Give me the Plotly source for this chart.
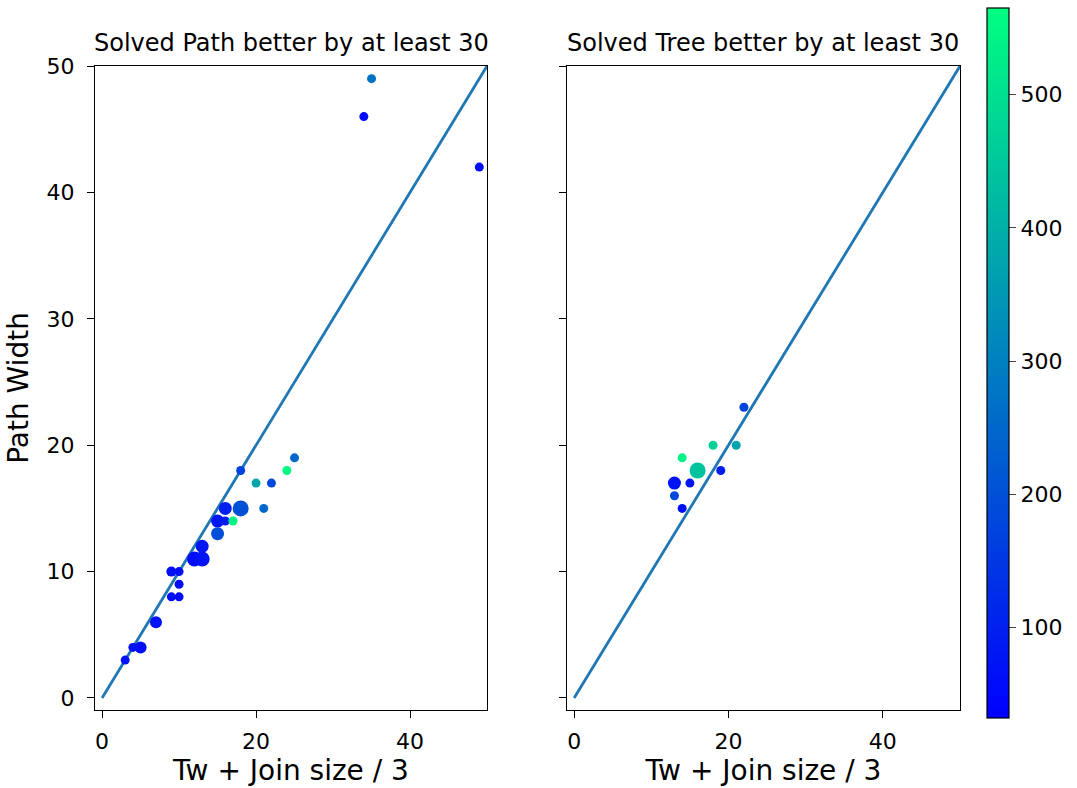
import plotly.graph_objects as go

# Left panel: Solved Path better by at least 30
path_x = [25, 24, 18, 20, 22, 16, 18, 21, 15, 16, 17, 15, 13, 12, 13, 9, 10, 10, 9, 10, 7, 4, 5, 3, 34, 35, 49]
path_y = [19, 18, 18, 17, 17, 15, 15, 15, 14, 14, 14, 13, 12, 11, 11, 10, 10, 9, 8, 8, 6, 4, 4, 3, 46, 49, 42]
path_c = [250, 550, 170, 380, 180, 100, 200, 250, 80, 90, 540, 200, 80, 60, 70, 60, 60, 50, 60, 50, 70, 70, 60, 70, 50, 270, 60]
path_s = [9, 9, 9, 9, 9, 13, 16, 9, 13, 9, 9, 13, 13, 15, 15, 10, 9, 9, 9, 9, 12, 9, 12, 9, 9, 9, 9]

# Right panel: Solved Tree better by at least 30
tree_x = [22, 18, 21, 14, 16, 19, 13, 15, 13, 14]
tree_y = [23, 20, 20, 19, 18, 18, 17, 17, 16, 15]
tree_c = [170, 470, 370, 540, 440, 90, 70, 80, 180, 60]
tree_s = [9, 9, 9, 9, 16, 9, 13, 9, 9, 9]

diag = [0, 50]
cmin, cmax = 32, 565
winter = [[0, "rgb(0,0,255)"], [1, "rgb(0,255,128)"]]
font = "DejaVu Sans"

fig = go.Figure()
fig.add_trace(go.Scatter(x=diag, y=diag, mode="lines", line=dict(color="#1f77b4", width=2.8),
                         xaxis="x", yaxis="y", showlegend=False))
fig.add_trace(go.Scatter(x=path_x, y=path_y, mode="markers", xaxis="x", yaxis="y", showlegend=False,
                         marker=dict(size=path_s, color=path_c, colorscale=winter, cmin=cmin, cmax=cmax,
                                     line=dict(width=0), opacity=1, showscale=False)))
fig.add_trace(go.Scatter(x=diag, y=diag, mode="lines", line=dict(color="#1f77b4", width=2.8),
                         xaxis="x2", yaxis="y2", showlegend=False))
fig.add_trace(go.Scatter(x=tree_x, y=tree_y, mode="markers", xaxis="x2", yaxis="y2", showlegend=False,
                         marker=dict(size=tree_s, color=tree_c, colorscale=winter, cmin=cmin, cmax=cmax,
                                     line=dict(width=0), opacity=1, showscale=True,
                                     colorbar=dict(x=1.031, xanchor="left", xpad=0, ypad=0,
                                                   y=0.5388, yanchor="middle", len=710, lenmode="pixels",
                                                   thickness=22, thicknessmode="pixels",
                                                   outlinewidth=1.2, outlinecolor="black",
                                                   ticks="outside", ticklen=7, tickwidth=1.2,
                                                   tickvals=[100, 200, 300, 400, 500],
                                                   tickfont=dict(size=22, color="black", family=font)))))

axis_common = dict(showline=True, linecolor="black", linewidth=1.3, mirror=True, ticks="outside",
                   ticklen=7, tickwidth=1.3, tickcolor="black", showgrid=False, zeroline=False)
tickfont = dict(size=22, color="black", family=font)

fig.update_layout(
    width=1077, height=788, plot_bgcolor="white", paper_bgcolor="white",
    margin=dict(l=95, r=117, t=66, b=78, autoexpand=False),
    font=dict(family=font, color="black"),
    xaxis=dict(domain=[0, 0.4532], range=[-0.92, 50], tickvals=[0, 20, 40], tickfont=tickfont,
               ticklabelstandoff=4,
               title=dict(text="Tw + Join size / 3", font=dict(size=28), standoff=7), **axis_common),
    yaxis=dict(domain=[0, 1], range=[-0.95, 50], tickvals=[0, 10, 20, 30, 40, 50], tickfont=tickfont,
               ticklabelstandoff=8,
               title=dict(text="Path Width", font=dict(size=28), standoff=9), **axis_common),
    xaxis2=dict(domain=[0.5457, 1], range=[-0.92, 50], tickvals=[0, 20, 40], anchor="y2", tickfont=tickfont,
                ticklabelstandoff=4,
                title=dict(text="Tw + Join size / 3", font=dict(size=28), standoff=7), **axis_common),
    yaxis2=dict(domain=[0, 1], range=[-0.95, 50], tickvals=[0, 10, 20, 30, 40, 50], anchor="x2",
                showticklabels=False, **axis_common),
    annotations=[
        dict(text="Solved Path better by at least 30", x=0.2266, y=1, xref="paper", yref="paper",
             xanchor="center", yanchor="bottom", yshift=7, showarrow=False, font=dict(size=24)),
        dict(text="Solved Tree better by at least 30", x=0.7728, y=1, xref="paper", yref="paper",
             xanchor="center", yanchor="bottom", yshift=7, showarrow=False, font=dict(size=24)),
    ],
)

fig.write_html("out.html")
